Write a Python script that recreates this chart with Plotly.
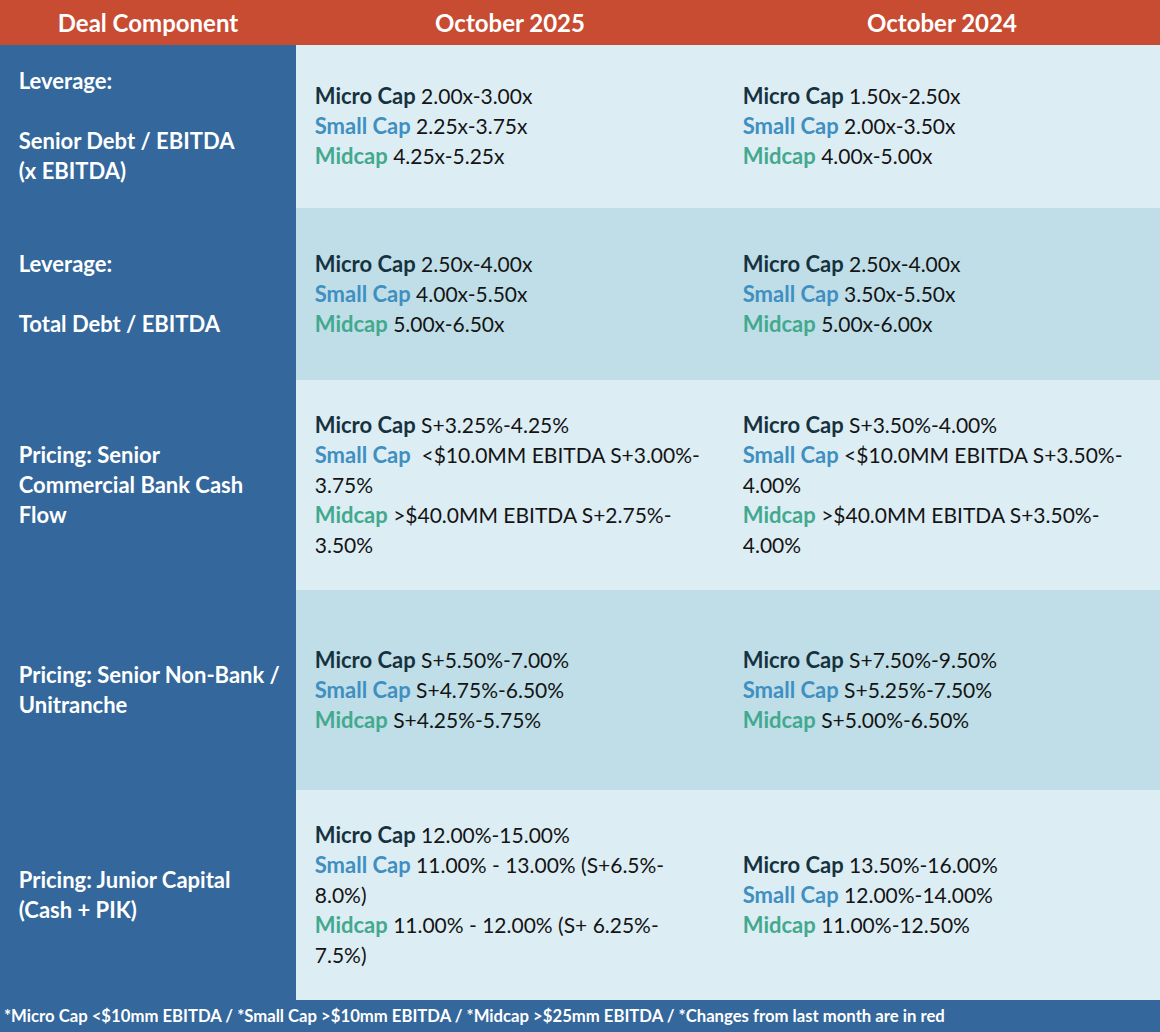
import math
import plotly.graph_objects as go

# ---------------- data ----------------
col_headers = ["Deal Component", "October 2025", "October 2024"]

component_lines = [
    ["Leverage:", "", "Senior Debt / EBITDA", "(x EBITDA)"],
    ["Leverage:", "", "Total Debt / EBITDA"],
    ["Pricing: Senior", "Commercial Bank Cash", "Flow"],
    ["Pricing: Senior Non-Bank /", "Unitranche"],
    ["Pricing: Junior Capital", "(Cash + PIK)"],
]

tiers = ["Micro Cap", "Small Cap", "Midcap"]

# "\n" marks where the text wraps in the original
oct_2025 = [
    ["2.00x-3.00x", "2.25x-3.75x", "4.25x-5.25x"],
    ["2.50x-4.00x", "4.00x-5.50x", "5.00x-6.50x"],
    ["S+3.25%-4.25%", "\u00a0<$10.0MM EBITDA S+3.00%-\n3.75%", ">$40.0MM EBITDA S+2.75%-\n3.50%"],
    ["S+5.50%-7.00%", "S+4.75%-6.50%", "S+4.25%-5.75%"],
    ["12.00%-15.00%", "11.00% - 13.00% (S+6.5%-\n8.0%)", "11.00% - 12.00% (S+ 6.25%-\n7.5%)"],
]

oct_2024 = [
    ["1.50x-2.50x", "2.00x-3.50x", "4.00x-5.00x"],
    ["2.50x-4.00x", "3.50x-5.50x", "5.00x-6.00x"],
    ["S+3.50%-4.00%", "<$10.0MM EBITDA S+3.50%-\n4.00%", ">$40.0MM EBITDA S+3.50%-\n4.00%"],
    ["S+7.50%-9.50%", "S+5.25%-7.50%", "S+5.00%-6.50%"],
    ["13.50%-16.00%", "12.00%-14.00%", "11.00%-12.50%"],
]

footnote = ("*Micro Cap <$10mm EBITDA / *Small Cap >$10mm EBITDA / "
            "*Midcap >$25mm EBITDA / *Changes from last month are in red")

# ---------------- layout / style ----------------
W, H = 1160, 1032
FOOTER_H = 32
HEADER_H = 44
HEADER_SIZE = 24
ROW_HEIGHTS = [163, 172, 210, 200, 210]
COL_WIDTHS = [296, 428, 436]

HEADER_FILL = "#C84C32"
LEFT_FILL = "#34679B"
ROW_FILLS = ["#DDEDF4", "#BFDEE7"]
TIER_COLORS = ["#17323F", "#3F8FC1", "#43A98E"]
VALUE_COLOR = "#141414"
FONT = "Lato, 'Noto Sans', Arial, sans-serif"

VAL_SIZE = 21        # regular text size (px)
BOLD_SIZE = 22       # bold label size (px)
LINE = 30.0          # line pitch (px)
BASE = LINE / 1.3    # plotly uses 1.3em line spacing
ASC, DESC = 0.987, 0.213
PAD = 8              # plotly table cell padding
INDENT = "\u00a0\u00a0"


def esc(s):
    return s.replace("&", "&amp;").replace("<", "&lt;").replace(">", "&gt;")


def span(px, inner):
    return f'<span style="font-size:{px:.2f}px">{inner}</span>'


def build_cell(lines, row_h, indent=INDENT):
    """Vertically centre a list of html lines inside a row of height row_h."""
    n = len(lines)
    first = row_h / 2 - LINE * (n - 1) / 2 + 0.36 * VAL_SIZE
    last = first + LINE * (n - 1)
    out = [span(VAL_SIZE, indent + ln) if ln else "" for ln in lines]
    # top spacer: pushes text down so the block is centred
    top_room = first - PAD - LINE
    if top_room >= 0:
        out = [span(top_room / ASC, "\u00a0")] + out
    else:
        out[0] = span((first - PAD) / ASC, "\u00a0") + out[0]
    # bottom spacer: makes the row exactly row_h tall
    room = row_h - PAD - last
    k = max(0, int(math.floor((room - DESC * BOLD_SIZE) / LINE)))
    rem = room - LINE * k
    sp = span(rem / DESC, "\u00a0")
    if k == 0:
        out[-1] = out[-1] + sp
    else:
        out += [""] * (k - 1) + [sp]
    return "<br>".join(out)


def bold(text, color=None):
    style = f"font-size:{BOLD_SIZE}px" + (f";color:{color}" if color else "")
    return f'<b><span style="{style}">{text}</span></b>'


def tier_lines(values):
    lines = []
    for tier, color, val in zip(tiers, TIER_COLORS, values):
        parts = val.split("\n")
        lines.append(f"{bold(tier, color)} {esc(parts[0])}")
        lines.extend(esc(p) for p in parts[1:])
    return lines


col0 = [build_cell([bold(esc(l)) if l else "" for l in comp], h)
        for comp, h in zip(component_lines, ROW_HEIGHTS)]
col1 = [build_cell(tier_lines(v), h) for v, h in zip(oct_2025, ROW_HEIGHTS)]
col2 = [build_cell(tier_lines(v), h) for v, h in zip(oct_2024, ROW_HEIGHTS)]

n_rows = len(ROW_HEIGHTS)
row_fill = [ROW_FILLS[i % 2] for i in range(n_rows)]
fills = [[LEFT_FILL] * n_rows, row_fill, row_fill]

table = go.Table(
    columnwidth=COL_WIDTHS,
    header=dict(
        values=[f"<b>{h}</b>" for h in col_headers],
        fill_color=HEADER_FILL,
        line=dict(width=0, color=HEADER_FILL),
        align="center",
        height=HEADER_H,
        font=dict(family=FONT, size=HEADER_SIZE, color="white"),
    ),
    cells=dict(
        values=[col0, col1, col2],
        fill_color=fills,
        line=dict(width=0, color=fills),
        align="left",
        height=20,
        font=dict(family=FONT, size=BASE, color=[["white"] * n_rows,
                                                  [VALUE_COLOR] * n_rows,
                                                  [VALUE_COLOR] * n_rows]),
    ),
    domain=dict(x=[0, 1], y=[FOOTER_H / H, 1]),
)

fig = go.Figure(table)
fig.update_layout(
    width=W,
    height=H,
    margin=dict(l=0, r=0, t=0, b=0),
    paper_bgcolor=LEFT_FILL,
    plot_bgcolor=LEFT_FILL,
    annotations=[dict(
        text=f"<b>{esc(footnote)}</b>",
        x=0.0015, y=(FOOTER_H / 2) / H, xref="paper", yref="paper",
        xanchor="left", yanchor="middle", showarrow=False,
        font=dict(family=FONT, size=16.7, color="white"),
    )],
)

fig.write_html(
    "out.html",
    config={"displayModeBar": False},
    post_script="document.body.style.margin='0';document.body.style.overflow='hidden';",
)
